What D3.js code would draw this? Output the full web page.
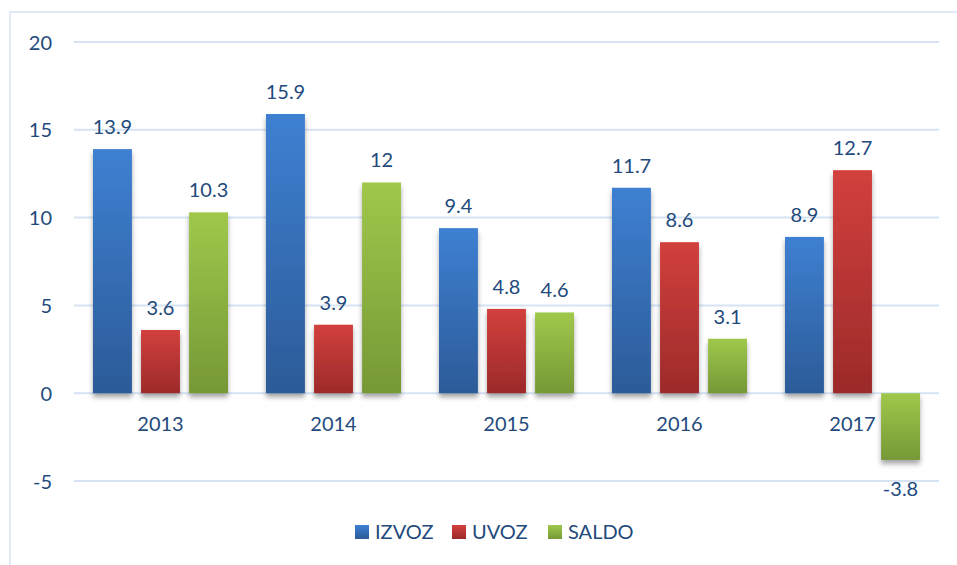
<!DOCTYPE html>
<html>
<head>
<meta charset="utf-8">
<script src="https://cdn.jsdelivr.net/npm/d3@7"></script>
<style>
  body { margin: 0; background: #fff; }
  svg text { font-family: Lato, "Open Sans", sans-serif; fill: #234a7c; }
</style>
</head>
<body>
<svg id="chart" width="957" height="565"></svg>
<script>
const years = ['2013', '2014', '2015', '2016', '2017'];
const izvoz = [13.9, 15.9, 9.4, 11.7, 8.9];
const uvoz = [3.6, 3.9, 4.8, 8.6, 12.7];
const saldo = [10.3, 12, 4.6, 3.1, -3.8];
const seriesNames = ['IZVOZ', 'UVOZ', 'SALDO'];
const yTicks = [-5, 0, 5, 10, 15, 20];

const colors = {
  IZVOZ: ['#3e80d2', '#2c5b98'],
  UVOZ: ['#d2403d', '#9c2a2a'],
  SALDO: ['#9fc84b', '#769836']
};

const svg = d3.select('#chart');
const margin = { top: 42, left: 74 };
const plotW = 865,
  plotH = 439;

// outer frame (only top and left visible in the picture)
svg.append('path')
  .attr('d', 'M10,565 L10,12 L957,12')
  .attr('fill', 'none')
  .attr('stroke', '#d5e3f3')
  .attr('stroke-width', 1.5);

const defs = svg.append('defs');
seriesNames.forEach((s) => {
  const grad = defs.append('linearGradient')
    .attr('id', `grad-${s}`)
    .attr('x1', 0).attr('y1', 0).attr('x2', 0).attr('y2', 1);
  grad.append('stop').attr('offset', '0%').attr('stop-color', colors[s][0]);
  grad.append('stop').attr('offset', '100%').attr('stop-color', colors[s][1]);
});
const shadow = defs.append('filter').attr('id', 'shadow')
  .attr('x', '-20%').attr('y', '-10%').attr('width', '140%').attr('height', '130%');
shadow.append('feDropShadow')
  .attr('dx', 0).attr('dy', 4).attr('stdDeviation', 2.5)
  .attr('flood-color', '#000').attr('flood-opacity', 0.35);

const g = svg.append('g').attr('transform', `translate(${margin.left}, ${margin.top})`);

const y = d3.scaleLinear().domain([-5, 20]).range([plotH, 0]);
const x0 = d3.scaleBand().domain(years).range([0, plotW]);
const x1 = d3.scaleBand().domain(seriesNames).range([19, x0.bandwidth() - 19]).paddingInner(0.19);

// gridlines
g.append('g')
  .selectAll('line')
  .data(yTicks)
  .enter()
  .append('line')
  .attr('x1', 0)
  .attr('x2', plotW)
  .attr('y1', (d) => y(d))
  .attr('y2', (d) => y(d))
  .attr('stroke', '#d6e3f4')
  .attr('stroke-width', 2);

// y axis labels
const yAxis = g.append('g')
  .attr('transform', 'translate(-22, 0)')
  .call(d3.axisLeft(y).tickValues(yTicks).tickSize(0).tickPadding(0).tickFormat((d) => String(d)));
yAxis.select('.domain').remove();
yAxis.selectAll('text')
  .style('font-size', '20px')
  .attr('fill', '#234a7c')
  .attr('dy', '0.35em');

const table = years.map((yr, i) => ({
  year: yr,
  values: [
    { name: 'IZVOZ', value: izvoz[i] },
    { name: 'UVOZ', value: uvoz[i] },
    { name: 'SALDO', value: saldo[i] }
  ]
}));

const groups = g.selectAll('.grp')
  .data(table)
  .enter()
  .append('g')
  .attr('class', 'grp')
  .attr('transform', (d) => `translate(${x0(d.year)}, 0)`);

groups.selectAll('rect')
  .data((d) => d.values)
  .enter()
  .append('rect')
  .attr('x', (d) => x1(d.name))
  .attr('width', x1.bandwidth())
  .attr('y', (d) => y(Math.max(0, d.value)))
  .attr('height', (d) => Math.abs(y(d.value) - y(0)))
  .attr('fill', (d) => `url(#grad-${d.name})`)
  .attr('filter', 'url(#shadow)');

groups.selectAll('.val')
  .data((d) => d.values)
  .enter()
  .append('text')
  .attr('class', 'val')
  .attr('x', (d) => x1(d.name) + x1.bandwidth() / 2)
  .attr('y', (d) => d.value >= 0 ? y(d.value) - 15 : y(d.value) + 36)
  .attr('text-anchor', 'middle')
  .style('font-size', '20px')
  .text((d) => d.value);

// category labels
g.append('g')
  .selectAll('text')
  .data(years)
  .enter()
  .append('text')
  .attr('x', (d) => x0(d) + x0.bandwidth() / 2)
  .attr('y', y(0) + 38)
  .attr('text-anchor', 'middle')
  .style('font-size', '20px')
  .text((d) => d);

// legend
const legendX = [355, 452, 548];
const legend = svg.append('g').attr('transform', 'translate(0, 532)');
seriesNames.forEach((s, i) => {
  legend.append('rect')
    .attr('x', legendX[i])
    .attr('y', -7)
    .attr('width', 14)
    .attr('height', 14)
    .attr('fill', `url(#grad-${s})`);
  legend.append('text')
    .attr('x', legendX[i] + 20)
    .attr('y', 0)
    .attr('dy', '0.35em')
    .style('font-size', '20px')
    .text(s);
});
</script>
</body>
</html>
